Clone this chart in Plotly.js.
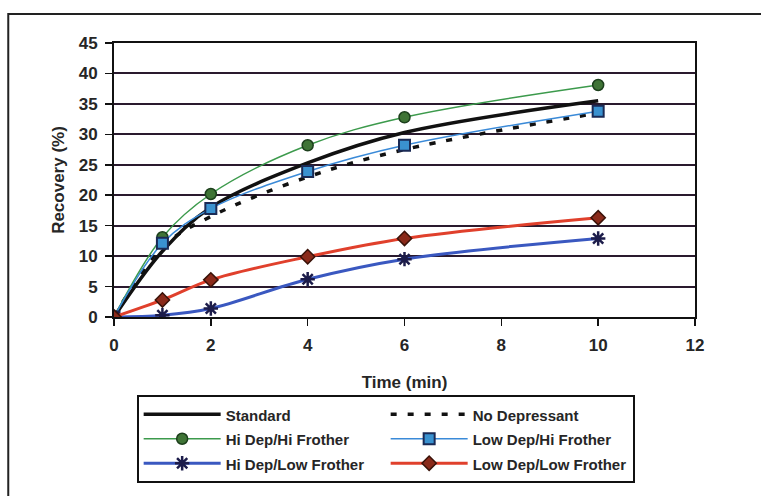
<!DOCTYPE html>
<html>
<head>
<meta charset="utf-8">
<script src="https://cdn.plot.ly/plotly-3.0.1.min.js"></script>
<style>html,body{margin:0;padding:0;background:#fff;}#chart{width:761px;height:496px;}</style>
</head>
<body>
<div id="chart"></div>
<script>
const time = [0, 1, 2, 4, 6, 10];
const standard = [0, 10.8, 18, 25.3, 30.3, 35.5];
const noDepressant = [0, 11.5, 16.5, 23, 27.5, 33.5];
const hiDepHiFrother = [0, 13.1, 20.2, 28.2, 32.8, 38.1];
const lowDepHiFrother = [0, 12.1, 17.8, 23.9, 28.2, 33.8];
const hiDepLowFrother = [0, 0.3, 1.4, 6.2, 9.5, 12.9];
const lowDepLowFrother = [0, 2.8, 6.1, 9.9, 12.9, 16.3];
const seriesNames = ["Standard", "No Depressant", "Hi Dep/Hi Frother", "Low Dep/Hi Frother", "Hi Dep/Low Frother", "Low Dep/Low Frother"];
const xTicks = [0, 2, 4, 6, 8, 10, 12];
const yTicks = [0, 5, 10, 15, 20, 25, 30, 35, 40, 45];

const FONT = "Liberation Sans, Arial, sans-serif";
const TXT = '#262626';
const nm = s => '<span style="font-size:15px">' + s + '</span>';

const traces = [
  {x: time, y: standard, name: nm(seriesNames[0]), mode: 'lines',
   line: {color: '#111111', width: 3.5, shape: 'spline'}},
  {x: time, y: noDepressant, name: nm(seriesNames[1]), mode: 'lines',
   line: {color: '#111111', width: 3.5, shape: 'spline', dash: '6px,11px'}},
  {x: time, y: hiDepHiFrother, name: nm(seriesNames[2]), mode: 'lines+markers',
   line: {color: '#3c9a4c', width: 1.5, shape: 'spline'},
   marker: {symbol: 'circle', size: 11, color: '#3f7436', line: {color: '#1c3f1c', width: 1.5}}},
  {x: time, y: lowDepHiFrother, name: nm(seriesNames[3]), mode: 'lines+markers',
   line: {color: '#3a8ad8', width: 1.5, shape: 'spline'},
   marker: {symbol: 'square', size: 11, color: '#3a92d0', line: {color: '#1a2a55', width: 2}}},
  {x: time, y: hiDepLowFrother, name: nm(seriesNames[4]), mode: 'lines+markers',
   line: {color: '#3a58c0', width: 3, shape: 'spline'},
   marker: {symbol: 'asterisk-open', size: 12, color: '#1c1c4a', line: {color: '#1c1c4a', width: 2.5}}},
  {x: time, y: lowDepLowFrother, name: nm(seriesNames[5]), mode: 'lines+markers',
   line: {color: '#e0402c', width: 3, shape: 'spline'},
   marker: {symbol: 'diamond', size: 11, color: '#8a2a1a', line: {color: '#3a1208', width: 1.5}}}
];

const layout = {
  width: 761, height: 496,
  margin: {l: 114, r: 66, t: 43, b: 179},
  paper_bgcolor: '#ffffff', plot_bgcolor: '#ffffff',
  font: {family: FONT, color: TXT, size: 17},
  showlegend: true,
  xaxis: {
    range: [0, 12], tickvals: xTicks, ticktext: xTicks.map(String),
    showgrid: false, zeroline: false,
    showline: true, linecolor: '#111111', linewidth: 2, mirror: true,
    ticks: 'outside', ticklen: 7, tickwidth: 1.5, tickcolor: '#111111',
    ticklabelstandoff: 5,
    tickfont: {family: FONT, size: 17, weight: 'bold', color: TXT},
    title: {text: 'Time (min)', font: {family: FONT, size: 17, weight: 'bold', color: TXT}, standoff: 22}
  },
  yaxis: {
    range: [0, 45], tickvals: yTicks, ticktext: yTicks.map(String),
    showgrid: true, gridcolor: '#2a1a2e', gridwidth: 2, zeroline: false,
    showline: true, linecolor: '#111111', linewidth: 2, mirror: true,
    ticks: 'outside', ticklen: 7, tickwidth: 1.5, tickcolor: '#111111',
    ticklabelstandoff: 4,
    tickfont: {family: FONT, size: 17, weight: 'bold', color: TXT},
    title: {text: 'Recovery (%)', font: {family: FONT, size: 17, weight: 'bold', color: TXT}, standoff: 10}
  },
  legend: {
    orientation: 'h', x: 0.039, xanchor: 'left', y: -0.285, yanchor: 'top',
    bordercolor: '#111111', borderwidth: 2, bgcolor: '#ffffff',
    font: {family: FONT, size: 16.5, weight: 'bold', color: TXT},
    itemwidth: 77, entrywidth: 155, entrywidthmode: 'pixels',
    traceorder: 'normal'
  },
  shapes: [
    {type: 'rect', xref: 'paper', yref: 'paper', x0: -0.182, x1: 1.25, y0: -0.8, y1: 1.106,
     line: {color: '#222222', width: 2}, fillcolor: 'rgba(0,0,0,0)', layer: 'below'}
  ]
};

Plotly.newPlot('chart', traces, layout, {displayModeBar: false, staticPlot: true});
</script>
</body>
</html>
